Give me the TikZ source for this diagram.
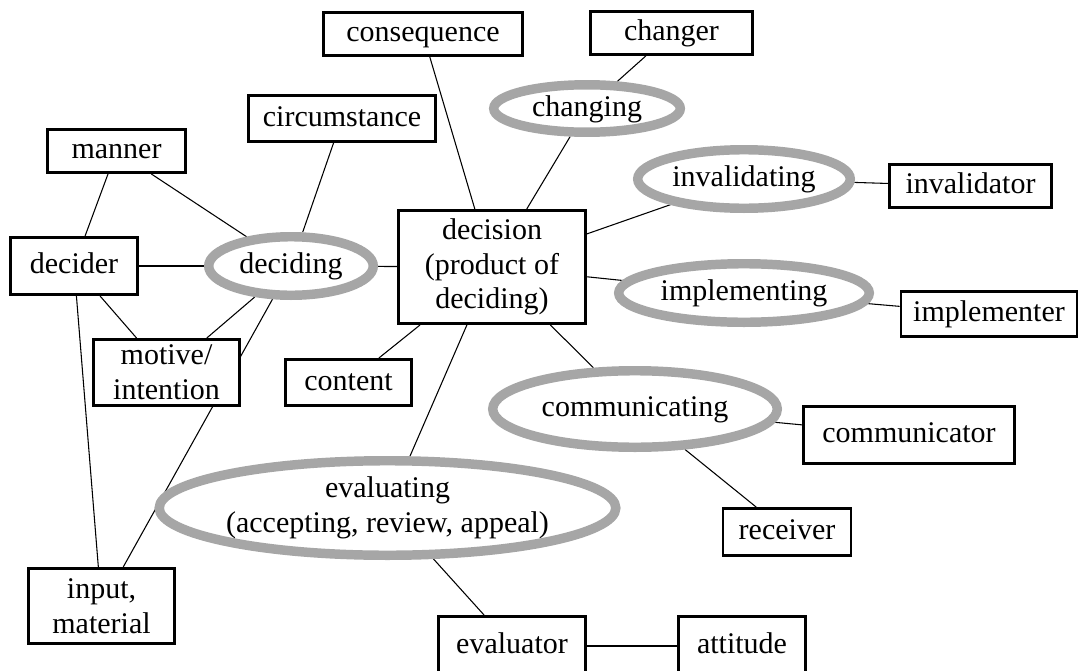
\documentclass[tikz,border=0pt]{standalone}
\usepackage{fontspec}
\setmainfont{Liberation Serif}
\usetikzlibrary{shapes.geometric,backgrounds}

\definecolor{ringgray}{HTML}{A6A6A6}

\tikzset{
  concept/.style={draw=black, line width=2.2pt, fill=white, inner sep=0pt,
    align=center, font=\fontsize{22.5}{26}\selectfont},
  activity/.style={ellipse, draw=ringgray, line width=7.1pt, fill=white, inner sep=0pt,
    align=center, font=\fontsize{22.5}{26}\selectfont},
  oneline/.style={text height=16.2pt, text depth=4.5pt},
  link/.style={draw=black, line width=0.8pt},
}

\begin{document}
\begin{tikzpicture}[x=0.75pt, y=-0.75pt]
\useasboundingbox (0,0) rectangle (1082,671);
\clip (0,0) rectangle (1082,671);

% activities (grey rings)
\node[activity, oneline, minimum width=139.9pt, minimum height=35.6pt] (changing)      at (587,108.5) {changing};
\node[activity, oneline, minimum width=159.4pt, minimum height=43.9pt] (invalidating)  at (744,179)   {invalidating};
\node[activity, oneline, minimum width=123.4pt, minimum height=43.9pt] (deciding)      at (291,266)   {deciding};
\node[activity, oneline, minimum width=187.9pt, minimum height=43.9pt] (implementing)  at (744,293)   {implementing};
\node[activity, oneline, minimum width=213.4pt, minimum height=57.4pt] (communicating) at (635,409)   {communicating};
\node[activity, minimum width=331.1pt, minimum height=70.9pt] (evaluating)    at (387.5,508) {evaluating\\(accepting, review, appeal)};

% concepts (boxes)
\node[concept, oneline, minimum width=149.25pt, minimum height=32.25pt] (consequence)  at (423,34)    {consequence};
\node[concept, oneline, minimum width=121.5pt,  minimum height=32.25pt] (changer)      at (671.5,33)  {changer};
\node[concept, oneline, minimum width=140.25pt, minimum height=34.5pt]  (circumstance) at (342,118.5) {circumstance};
\node[concept, oneline, minimum width=103.5pt,  minimum height=32.25pt] (manner)       at (116.5,151) {manner};
\node[concept, oneline, minimum width=95.25pt,  minimum height=42.75pt] (decider)      at (74,266)    {decider};
\node[concept, minimum width=140.25pt, minimum height=84.75pt] (decision)     at (492,267)   {decision\\(product of\\deciding)};
\node[concept, oneline, minimum width=121.5pt,  minimum height=32.25pt] (invalidator)  at (970.5,186) {invalidator};
\node[concept, oneline, minimum width=132pt,    minimum height=33.75pt] (implementer)  at (989,314)   {implementer};
\node[concept, minimum width=109.5pt,  minimum height=49.5pt]  (motive)       at (166.5,372.5) {motive/\\intention};
\node[concept, oneline, minimum width=94.5pt,   minimum height=34.5pt]  (content)      at (348.5,382.5) {content};
\node[concept, oneline, minimum width=158.25pt, minimum height=42.75pt] (communicator) at (909,435)   {communicator};
\node[concept, oneline, minimum width=96pt,     minimum height=35.25pt] (receiver)     at (787,532)   {receiver};
\node[concept, minimum width=109.5pt,  minimum height=56.25pt] (input)        at (101.5,606) {input,\\material};
\node[concept, oneline, minimum width=110.25pt, minimum height=44.25pt] (evaluator)    at (512,646)   {evaluator};
\node[concept, oneline, minimum width=95.25pt,  minimum height=44.25pt] (attitude)     at (742,646)   {attitude};

% connectors, kept behind the shapes
\begin{pgfonlayer}{background}
  \draw[link] (consequence) -- (decision);
  \draw[link] (changer) -- (changing);
  \draw[link] (changing) -- (decision);
  \draw[link] (decision) -- (invalidating);
  \draw[link] (invalidating) -- (invalidator);
  \draw[link] (decision) -- (implementing);
  \draw[link] (implementing) -- (implementer);
  \draw[link] (decision) -- (communicating);
  \draw[link] (communicating) -- (communicator);
  \draw[link] (communicating) -- (receiver);
  \draw[link] (decision) -- (content);
  \draw[link] (decision) -- (evaluating);
  \draw[link] (evaluating) -- (evaluator);
  \draw[link] (evaluator) -- (attitude);
  \draw[link] (deciding) -- (decision);
  \draw[link] (circumstance) -- (deciding);
  \draw[link] (manner) -- (deciding);
  \draw[link] (manner) -- (decider);
  \draw[link] (decider) -- (deciding);
  \draw[link] (decider) -- (motive);
  \draw[link] (decider) -- (input);
  \draw[link] (deciding) -- (motive);
  \draw[link] (deciding) -- (input);
\end{pgfonlayer}
\end{tikzpicture}
\end{document}
